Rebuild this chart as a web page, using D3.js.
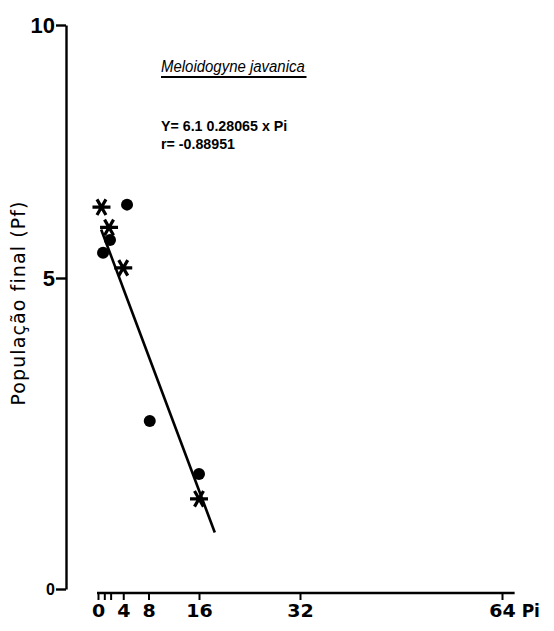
<!DOCTYPE html>
<html>
<head>
<meta charset="utf-8">
<script src="https://cdn.jsdelivr.net/npm/d3@7"></script>
<style>
  html, body { margin: 0; padding: 0; background: #fff; }
  svg { display: block; }
  text { fill: #000; }
</style>
</head>
<body>
<svg id="chart" width="554" height="631"></svg>
<script>
// Initial population (Pi) vs final population (Pf), two series
const starPi = [0.55, 1.75, 4, 16];
const starPf = [6.4, 6.0, 5.2, 1.45];
const dotPi  = [0.8, 1.9, 4.6, 8.2, 16];
const dotPf  = [5.5, 5.75, 6.45, 2.7, 1.85];

// Axis ticks and labels
const xTicks  = [0, 1, 2, 4, 8, 16, 32, 64];
const xLabels = [0, 4, 8, 16, 32, 64];
const xAxisEnd = 66;
const yTicks  = [0, 5, 10];

// Regression Pf = a + b * Pi
const intercept = 6.1;
const slope = -0.28065;
const rValue = -0.88951;
const fitPi = [0.5, 18.5];

const species = "Meloidogyne javanica";
const yTitle = "População final (Pf)";
const xTitle = "Pi";

const svg = d3.select("#chart");
const sans = "'Liberation Sans', Arial, Helvetica, sans-serif";
const wide = "'DejaVu Sans', Verdana, sans-serif";

// Layout
const yAxisX = 66, xAxisY = 593;
const x = d3.scaleLinear().domain([0, 64]).range([98, 502]);
const y = d3.scaleLinear().domain([0, 5, 10]).range([589, 278, 25]);

// Y axis
const gy = svg.append("g")
  .attr("transform", `translate(${yAxisX},0)`)
  .call(d3.axisLeft(y).tickValues(yTicks).tickSize(10).tickSizeOuter(0).tickPadding(1));
gy.selectAll("path, line").attr("stroke", "#000").attr("stroke-width", 2.4);
gy.selectAll("text")
  .attr("font-family", sans).attr("font-weight", "bold")
  .attr("font-size", d => d === 0 ? 16 : 22);

// X axis
const gx = svg.append("g")
  .attr("transform", `translate(0,${xAxisY})`)
  .call(d3.axisBottom(x).tickValues(xTicks).tickSize(7).tickSizeOuter(0).tickPadding(5)
    .tickFormat(d => xLabels.includes(d) ? d : ""));
gx.select(".domain").remove();
gx.append("line")
  .attr("x1", x(0) - 1).attr("x2", x(xAxisEnd))
  .attr("stroke", "#000").attr("stroke-width", 2.4);
gx.selectAll(".tick line").attr("stroke", "#000").attr("stroke-width", 2);
// widen the digits slightly about their own centre
gx.selectAll(".tick text")
  .attr("font-family", wide).attr("font-weight", "bold").attr("font-size", 17)
  .attr("transform", "scale(1.12,1)");

svg.append("text")
  .attr("x", x(xAxisEnd) + 7).attr("y", xAxisY + 24)
  .attr("font-family", wide).attr("font-weight", "bold").attr("font-size", 17)
  .text(xTitle);

// Y title
svg.append("text")
  .attr("transform", `translate(25,${(y(10) + y(0)) / 2 - 4}) rotate(-90)`)
  .attr("text-anchor", "middle")
  .attr("font-family", wide).attr("font-size", 19).attr("letter-spacing", 1.1)
  .text(yTitle);

// Regression line
const fit = fitPi.map(p => ({ pi: p, pf: intercept + slope * p }));
svg.append("path")
  .datum(fit)
  .attr("d", d3.line().x(d => x(d.pi)).y(d => y(d.pf)))
  .attr("fill", "none").attr("stroke", "#000").attr("stroke-width", 2.6);

// Dots
svg.append("g").selectAll("circle")
  .data(dotPi.map((p, i) => ({ pi: p, pf: dotPf[i] })))
  .join("circle")
  .attr("cx", d => x(d.pi)).attr("cy", d => y(d.pf)).attr("r", 6)
  .attr("fill", "#000");

// Asterisks
const star = d3.symbol(d3.symbolAsterisk).size(228);
svg.append("g").selectAll("path")
  .data(starPi.map((p, i) => ({ pi: p, pf: starPf[i] })))
  .join("path")
  .attr("d", star)
  .attr("transform", d => `translate(${x(d.pi)},${y(d.pf)}) rotate(90)`)
  .attr("fill", "none").attr("stroke", "#000").attr("stroke-width", 3.2);

// Annotation: species name, underlined
const head = svg.append("g").attr("transform", "translate(161,0) scale(0.88,1)");
const title = head.append("text")
  .attr("y", 72)
  .attr("font-family", sans).attr("font-style", "italic").attr("font-size", 17)
  .text(species);
const tw = title.node().getComputedTextLength();
head.append("line")
  .attr("x1", 0).attr("x2", tw + 2).attr("y1", 77).attr("y2", 77)
  .attr("stroke", "#000").attr("stroke-width", 1.8);

// Annotation: regression equation and correlation
const stats = svg.append("g").attr("transform", "translate(161,0) scale(0.95,1)");
stats.append("text")
  .attr("y", 131)
  .attr("font-family", sans).attr("font-weight", "bold").attr("font-size", 15)
  .text(`Y= ${intercept} ${Math.abs(slope)} x Pi`);
stats.append("text")
  .attr("y", 149)
  .attr("font-family", sans).attr("font-weight", "bold").attr("font-size", 15)
  .text(`r= ${rValue}`);
</script>
</body>
</html>
